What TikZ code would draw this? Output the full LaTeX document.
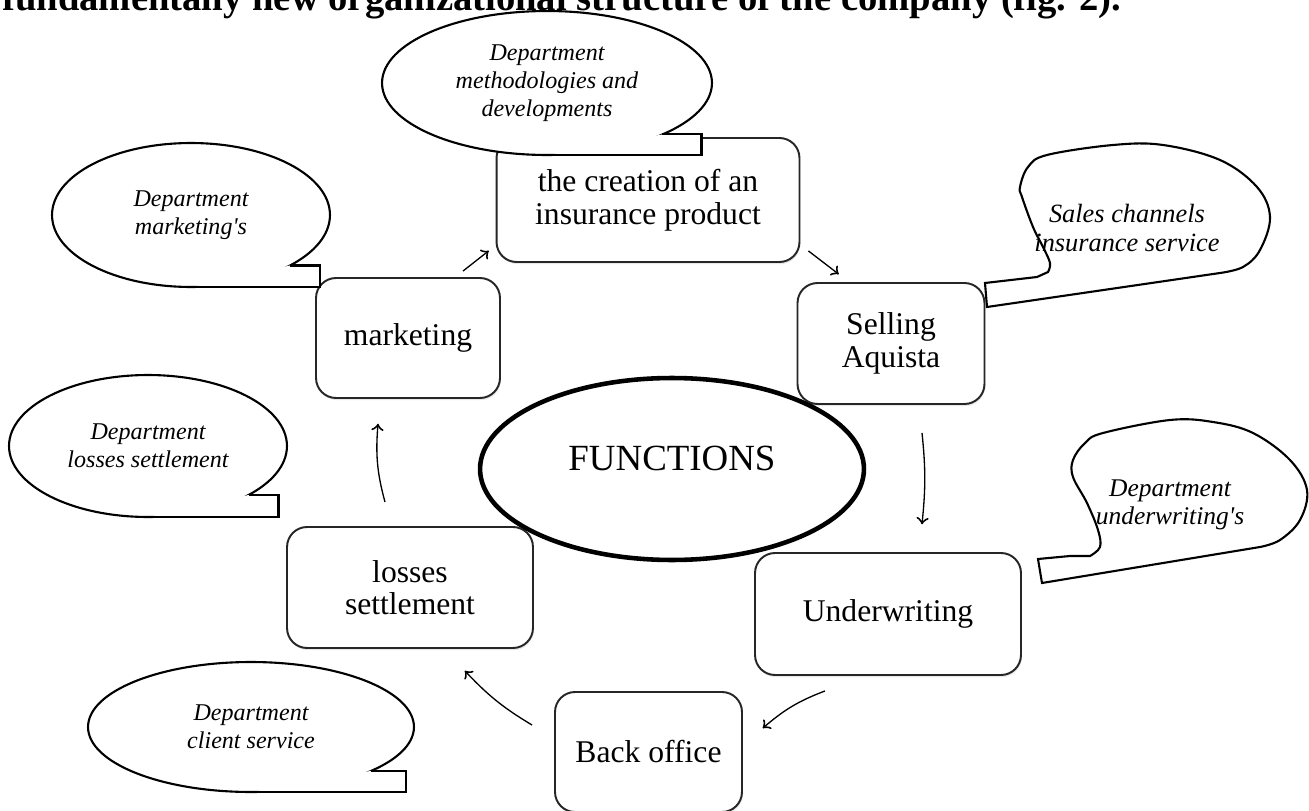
\documentclass[tikz,border=0pt]{standalone}
\usepackage{fontspec}
\setmainfont{Liberation Serif}
\usepackage{tikz}
\usetikzlibrary{arrows,shapes.geometric,shadows,decorations.markings}
\tikzstyle{func} = [rectangle, rounded corners=0.4cm, draw=black!85, line width=1.1pt, fill=white, align=center, font=\fontsize{18}{18.5}\selectfont, drop shadow={opacity=0.18, shadow xshift=0.5pt, shadow yshift=-1.2pt}]
\tikzstyle{dept} = [ellipse, draw=black, line width=1.2pt, fill=white, align=center, inner sep=0pt, outer sep=0pt, font=\fontsize{13.7}{16}\selectfont\itshape]
\tikzstyle{core} = [ellipse, draw=black, line width=2.6pt, fill=white, inner sep=0pt, font=\fontsize{21}{24}\selectfont]
\newcommand{\notch}[3]{%
  \fill[white] (#1.#2) -- ++(#3,0) |- (#1.south) -- cycle;
  \draw[line width=1.2pt] (#1.#2) -- ++(#3,0) |- (#1.south);}

\begin{document}
\begin{tikzpicture}[x=0.02cm, y=0.02cm]
    \tikzset{myarr/.style={line width=0.75pt, decoration={markings,mark=at position 1 with %
    {\arrow[scale=1.5,>=to]{>}}},postaction={decorate}}}
    \useasboundingbox (0,0) rectangle (1309,-811);
    \clip (0,0) rectangle (1309,-811);

    % functions
    \node (creation) [func, minimum width=6.06cm, minimum height=2.48cm] at (648,-200) {the creation of an\\insurance product};
    \node (marketing) [func, minimum width=3.68cm, minimum height=2.4cm] at (408,-338) {marketing};
    \node (selling) [func, minimum width=3.74cm, minimum height=2.42cm] at (891,-343.5) {Selling\\Aquista};
    \node (underwriting) [func, minimum width=5.32cm, minimum height=2.44cm] at (888,-614) {Underwriting};
    \node (backoffice) [func, minimum width=3.74cm, minimum height=2.4cm] at (648.5,-752) {Back office};
    \node (losses) [func, minimum width=4.92cm, minimum height=2.42cm] at (410,-587.5) {losses\\settlement};

    % departments
    \node (meth_dept) [dept, minimum width=6.6cm, minimum height=2.88cm] at (547,-83) {Department\\methodologies and\\developments};
    \notch{meth_dept}{-24}{39}
    \node (mkt_dept) [dept, minimum width=5.56cm, minimum height=2.88cm] at (191,-215) {Department\\marketing\textquotesingle s};
    \notch{mkt_dept}{-27}{30}
    \node (loss_dept) [dept, minimum width=5.56cm, minimum height=2.84cm] at (148,-446) {Department\\losses settlement};
    \notch{loss_dept}{-26}{30}
    \node (client_dept) [dept, minimum width=6.52cm, minimum height=2.6cm] at (251,-727) {Department\\client service};
    \notch{client_dept}{-20}{35}

    \draw[line width=1.2pt, fill=white] (987,-307) -- (985,-283) -- (1037,-277) -- plot[smooth, tension=0.6] coordinates {(1048,-272) (1050,-263) (1043,-247) (1033,-227) (1022,-197) (1020,-187) (1028,-167) (1047,-155) (1113,-145) (1163,-145) (1220,-160) (1257,-187) (1270,-217) (1260,-250) (1243,-267) (1220,-273)} -- cycle;
    \node (sales_dept) [align=center, font=\fontsize{15}{17}\selectfont\itshape] at (1127,-228) {Sales channels\\insurance service};

    \draw[line width=1.2pt, fill=white] (1042,-583) -- (1038,-559) -- (1070,-556) -- plot[smooth, tension=0.6] coordinates {(1090,-556) (1100,-547) (1098,-530) (1087,-503) (1073,-477) (1073,-460) (1085,-443) (1103,-433) (1170,-420) (1213,-422) (1253,-433) (1290,-460) (1307,-490) (1300,-520) (1280,-540) (1260,-547)} -- cycle;
    \node (uw_dept) [align=center, font=\fontsize{14.5}{16}\selectfont\itshape] at (1170,-505) {Department\\underwriting\textquotesingle s};

    \node (functions) [core, minimum width=7.68cm, minimum height=3.64cm, text depth=0.44cm] at (672,-469) {FUNCTIONS};

    \node[anchor=base west, font=\fontsize{22}{24}\selectfont\bfseries] (caption) at (-4,-11) {fundamentally new organizational structure of the company (fig. 2).};

    \draw[myarr] ([shift={(55,6)}]marketing.north) -- ([shift={(-7,12)}]creation.south west);
    \draw[myarr] ([shift={(8,12)}]creation.south east) -- ([shift={(42,8)}]selling.north west);
    \draw[myarr] ([shift={(31,-28)}]selling.south) to[bend left=6] ([shift={(34,28)}]underwriting.north);
    \draw[myarr] ([shift={(-63,-15)}]underwriting.south) to[bend right=10] ([shift={(20,24)}]backoffice.east);
    \draw[myarr] ([shift={(-22,27)}]backoffice.west) to[bend left=8] ([shift={(55,-22)}]losses.south);
    \draw[myarr] ([shift={(-25,24)}]losses.north) to[bend left=10] ([shift={(-30,-25)}]marketing.south);
\end{tikzpicture}
\end{document}
